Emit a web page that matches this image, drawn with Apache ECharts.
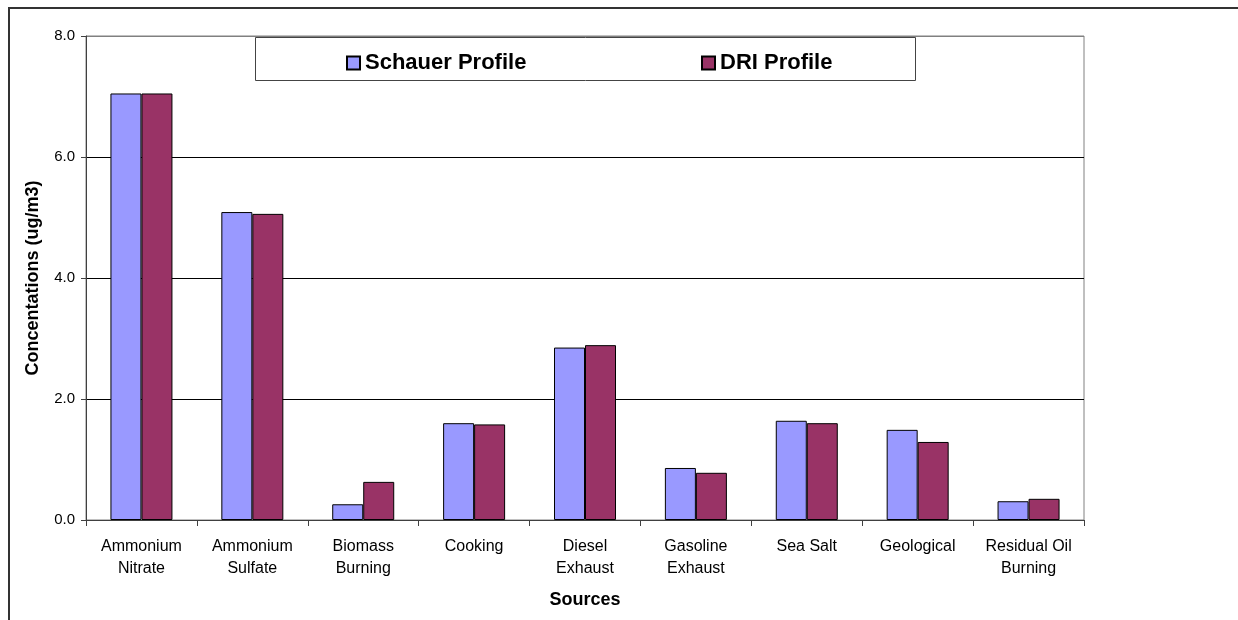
<!DOCTYPE html>
<html>
<head>
<meta charset="utf-8">
<script src="https://cdn.jsdelivr.net/npm/echarts@6/dist/echarts.min.js"></script>
<style>
  html, body { margin: 0; padding: 0; background: #fff; }
  #chart { width: 1238px; height: 620px; }
</style>
</head>
<body>
<div id="chart"></div>
<script>
// categories and series values (ug/m3)
const sources = [
  'Ammonium\nNitrate', 'Ammonium\nSulfate', 'Biomass\nBurning', 'Cooking',
  'Diesel\nExhaust', 'Gasoline\nExhaust', 'Sea Salt', 'Geological', 'Residual Oil\nBurning'
]
const schauer = [7.05, 5.09, 0.26, 1.60, 2.85, 0.86, 1.64, 1.49, 0.31]
const dri = [7.05, 5.06, 0.63, 1.58, 2.89, 0.78, 1.60, 1.29, 0.35]
const yTicks = { min: 0, max: 8, interval: 2 }

const font = 'Liberation Sans, Arial, sans-serif'
const chart = echarts.init(document.getElementById('chart'))

const legendText = { fontFamily: font, fontSize: 22, fontWeight: 'bold', color: '#000' }

const option = {
  backgroundColor: '#fff',
  animation: false,
  textStyle: { fontFamily: font },
  grid: {
    left: 86, top: 36, width: 998, height: 484,
    show: true, borderColor: '#808080', borderWidth: 1, backgroundColor: 'transparent'
  },
  graphic: [
    // outer chart frame (only left/top edges visible in the frame)
    { type: 'rect', shape: { x: 9, y: 8, width: 1300, height: 700 },
      style: { fill: 'none', stroke: '#333', lineWidth: 2 }, z: -1 },
    // legend box
    { type: 'rect', shape: { x: 255.5, y: 37.5, width: 660, height: 43 },
      style: { fill: '#fff', stroke: '#444', lineWidth: 1 }, z: 1 }
  ],
  legend: [
    {
      data: ['Schauer Profile'], left: 341, top: 47, z: 10, icon: 'rect',
      itemWidth: 13, itemHeight: 13, itemGap: 6, textStyle: legendText
    },
    {
      data: ['DRI Profile'], left: 696, top: 47, z: 10, icon: 'rect',
      itemWidth: 13, itemHeight: 13, itemGap: 6, textStyle: legendText
    }
  ],
  xAxis: {
    type: 'category',
    data: sources,
    name: 'Sources',
    nameLocation: 'middle',
    nameGap: 71,
    nameTextStyle: { fontFamily: font, fontSize: 18, fontWeight: 'bold', color: '#000' },
    axisLine: { lineStyle: { color: '#404040', width: 1 } },
    axisTick: { show: true, length: 6, lineStyle: { color: '#404040' } },
    axisLabel: {
      color: '#000', fontFamily: font, fontSize: 16, lineHeight: 22,
      margin: 16, interval: 0
    },
    splitLine: { show: false }
  },
  yAxis: {
    type: 'value',
    min: yTicks.min, max: yTicks.max, interval: yTicks.interval,
    name: 'Concentations (ug/m3)',
    nameLocation: 'middle',
    nameGap: 44,
    nameTextStyle: { fontFamily: font, fontSize: 18, fontWeight: 'bold', color: '#000' },
    axisLine: { show: true, lineStyle: { color: '#404040', width: 1 } },
    axisTick: { show: true, length: 5, lineStyle: { color: '#404040' } },
    axisLabel: {
      color: '#000', fontFamily: font, fontSize: 15, margin: 11,
      formatter: v => v.toFixed(1)
    },
    splitLine: { show: true, lineStyle: { color: ['#404040', '#000', '#000', '#000', '#808080'], width: 1 } }
  },
  series: [
    {
      name: 'Schauer Profile',
      type: 'bar',
      data: schauer,
      barWidth: 31,
      barGap: '0%',
      itemStyle: { color: '#9999FF', borderColor: '#000', borderWidth: 1 }
    },
    {
      name: 'DRI Profile',
      type: 'bar',
      data: dri,
      barWidth: 31,
      barGap: '0%',
      itemStyle: { color: '#993366', borderColor: '#000', borderWidth: 1 }
    }
  ]
}

chart.setOption(option)
</script>
</body>
</html>
